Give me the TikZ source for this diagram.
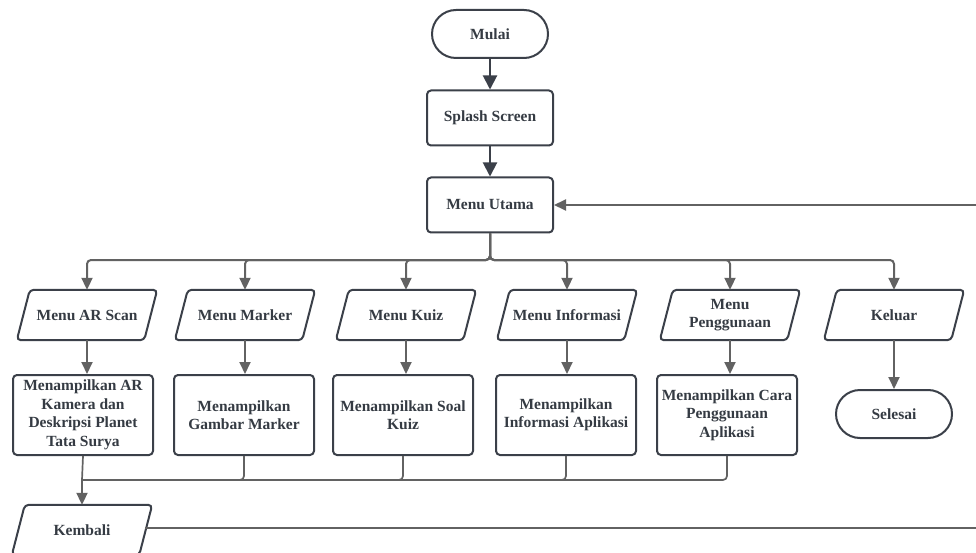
\documentclass[tikz,border=0pt]{standalone}
\usepackage{fontspec}
\setmainfont{Liberation Serif}
\usetikzlibrary{arrows.meta,calc}
\definecolor{bord}{HTML}{3B4049}
\definecolor{conn}{HTML}{626262}
\definecolor{txt}{HTML}{353B43}
\tikzset{
 base/.style={font=\bfseries\fontsize{15.5}{18.5}\selectfont, text=txt, align=center, inner sep=0pt},
 proc/.style={base, draw=bord, line width=2pt, rounded corners=4pt, minimum width=140pt, minimum height=80pt},
 term/.style={base, draw=bord, line width=2pt, rounded corners=24pt, minimum width=116pt, minimum height=48pt},
 io/.style={base, minimum width=140pt, minimum height=50pt},
 ioline/.style={draw=bord, line width=2pt, rounded corners=4pt},
 flow/.style={draw=conn, line width=2pt, -{Triangle[length=12pt,width=11pt]}, rounded corners=4pt},
 flowd/.style={draw=bord, line width=2pt, -{Triangle[length=14pt,width=14pt]}},
 conline/.style={draw=conn, line width=1.7pt, rounded corners=4pt},
}
\newcommand\ioshape[4]{%
 \node[io] (#1) at (#2,#3) {#4};
 \draw[ioline] ($(#1.north west)+(13,0)$) -- (#1.north east) -- ($(#1.south east)+(-13,0)$) -- (#1.south west) -- cycle;
}
\begin{document}
\begin{tikzpicture}[x=1pt,y=-1pt]
\clip (0,0) rectangle (976,553);
\fill[white] (0,0) rectangle (976,553);

\node[term] (mulai) at (490,34) {Mulai};
\node[proc, minimum width=126pt, minimum height=55pt] (splash) at (490,118) {Splash Screen};
\node[proc, minimum width=126pt, minimum height=55pt] (utama) at (490,205) {Menu Utama};

\ioshape{ar}{87}{315}{Menu AR Scan}
\ioshape{marker}{245}{315}{Menu Marker}
\ioshape{kuiz}{406}{315}{Menu Kuiz}
\ioshape{info}{567}{315}{Menu Informasi}
\ioshape{peng}{730}{315}{Menu\\Penggunaan}
\ioshape{keluar}{894}{315}{Keluar}

\node[proc] (ar2) at (83,415) {Menampilkan AR\\Kamera dan\\Deskripsi Planet\\Tata Surya};
\node[proc] (m2) at (244,415) {Menampilkan\\Gambar Marker};
\node[proc] (k2) at (403,415) {Menampilkan Soal\\Kuiz};
\node[proc] (i2) at (566,415) {Menampilkan\\Informasi Aplikasi};
\node[proc] (p2) at (727,415) {Menampilkan Cara\\Penggunaan\\Aplikasi};
\node[term] (selesai) at (894,414) {Selesai};

\ioshape{kembali}{82}{530}{Kembali}

% top flow
\draw[flowd] (mulai) -- (splash);
\draw[flowd] (splash) -- (utama);

% branching
\coordinate (bj) at (490,260);
\foreach \n in {ar,marker,kuiz,info,peng,keluar}{
  \draw[flow] (utama.south) -- (bj) -| (\n.north);
}

% menus to processes
\foreach \a/\b in {ar/ar2,marker/m2,kuiz/k2,info/i2,peng/p2,keluar/selesai}{
  \draw[flow] (\a.south) -- (\a.south |- \b.north);
}

% collect to Kembali
\coordinate (cj) at (82,480);
\draw[conline] (ar2.south) -- (cj);
\foreach \b in {m2,k2,i2,p2}{
  \draw[conline] (\b.south) |- (cj);
}
\draw[flow] (cj) -- (kembali.north);

% return to Menu Utama
\coordinate (re1) at (976,528);
\coordinate (re2) at (976,205);
\draw[conline, line width=2pt] ($(kembali.east)+(-7,-2)$) -- (re1);
\draw[flow] (re2) -- (utama.east);
\end{tikzpicture}
\end{document}
